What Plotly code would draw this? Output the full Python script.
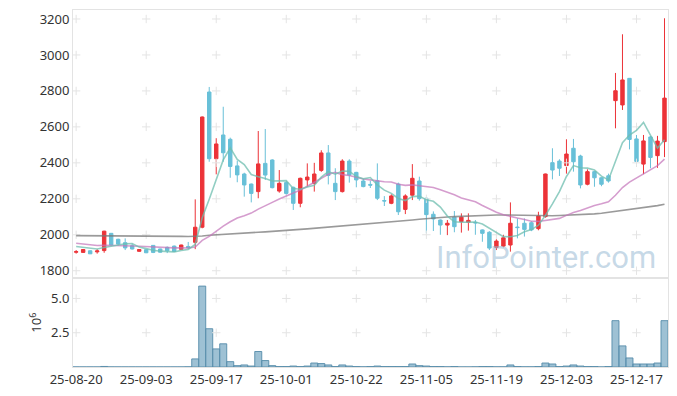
import plotly.graph_objects as go
import pandas as pd

dates = [
    "25-08-20", "25-08-21", "25-08-22", "25-08-25", "25-08-26", "25-08-27", "25-08-28", "25-08-29",
    "25-09-01", "25-09-02", "25-09-03", "25-09-04", "25-09-05", "25-09-08", "25-09-09", "25-09-10",
    "25-09-11", "25-09-12", "25-09-15", "25-09-16", "25-09-17", "25-09-18", "25-09-19", "25-09-22",
    "25-09-23", "25-09-24", "25-09-25", "25-09-26", "25-09-29", "25-09-30", "25-10-01", "25-10-02",
    "25-10-10", "25-10-13", "25-10-14", "25-10-15", "25-10-16", "25-10-17", "25-10-20", "25-10-21",
    "25-10-22", "25-10-23", "25-10-24", "25-10-27", "25-10-28", "25-10-29", "25-10-30", "25-10-31",
    "25-11-03", "25-11-04", "25-11-05", "25-11-06", "25-11-07", "25-11-10", "25-11-11", "25-11-12",
    "25-11-13", "25-11-14", "25-11-17", "25-11-18", "25-11-19", "25-11-20", "25-11-21", "25-11-24",
    "25-11-25", "25-11-26", "25-11-27", "25-11-28", "25-12-01", "25-12-02", "25-12-03", "25-12-04",
    "25-12-05", "25-12-08", "25-12-09", "25-12-10", "25-12-11", "25-12-12", "25-12-15", "25-12-16",
    "25-12-17", "25-12-18", "25-12-19", "25-12-22", "25-12-23",
]

open_ = [1903, 1902, 1911, 1905, 1912, 2008, 1975, 1956, 1939, 1908, 1917, 1941, 1921, 1930, 1937, 1919,
         1935, 1958, 2042, 2794, 2423, 2555, 2531, 2383, 2338, 2282, 2240, 2397, 2416, 2243, 2290, 2264,
         2175, 2305, 2286, 2358, 2455, 2286, 2240, 2410, 2347, 2299, 2280, 2300, 2190, 2175, 2282, 2141,
         2220, 2299, 2203, 2114, 2082, 2054, 2098, 2073, 2070, 2069, 2027, 2014, 1930, 1937, 1943, 2043,
         2064, 2067, 2034, 2101, 2401, 2410, 2385, 2481, 2438, 2281, 2351, 2317, 2328, 2746, 2722, 2870,
         2533, 2393, 2544, 2440, 2518]
high = [1915, 1920, 1913, 1920, 2022, 2010, 1978, 1980, 1950, 1920, 1920, 1943, 1923, 1935, 1940, 1945,
        1960, 2197, 2658, 2822, 2537, 2712, 2540, 2412, 2345, 2285, 2577, 2588, 2420, 2360, 2300, 2268,
        2318, 2397, 2400, 2470, 2499, 2370, 2420, 2420, 2350, 2310, 2300, 2397, 2215, 2225, 2290, 2225,
        2393, 2323, 2210, 2130, 2085, 2082, 2132, 2119, 2119, 2082, 2030, 2020, 1975, 2000, 2180, 2091,
        2091, 2075, 2128, 2340, 2481, 2420, 2531, 2533, 2445, 2364, 2355, 2320, 2340, 2900, 3115, 2872,
        2555, 2555, 2550, 2550, 3204]
low = [1895, 1900, 1893, 1895, 1900, 1940, 1940, 1915, 1918, 1905, 1898, 1898, 1900, 1898, 1905, 1917,
       1922, 1920, 2036, 2406, 2336, 2406, 2317, 2292, 2212, 2180, 2203, 2305, 2258, 2234, 2222, 2138,
       2153, 2267, 2240, 2350, 2280, 2193, 2235, 2290, 2264, 2264, 2260, 2193, 2160, 2170, 2110, 2115,
       2193, 2190, 2008, 2021, 2000, 1998, 2014, 2012, 2023, 2000, 1961, 1915, 1915, 1930, 1906, 1980,
       1990, 2020, 2025, 2095, 2308, 2327, 2340, 2351, 2258, 2275, 2267, 2270, 2290, 2592, 2694, 2475,
       2395, 2337, 2370, 2372, 2432]
close = [1906, 1918, 1894, 1910, 2020, 1943, 1948, 1927, 1921, 1918, 1900, 1902, 1903, 1911, 1907, 1943,
         1927, 2042, 2655, 2423, 2505, 2456, 2380, 2333, 2277, 2230, 2394, 2332, 2262, 2286, 2230, 2175,
         2314, 2321, 2338, 2455, 2330, 2240, 2410, 2332, 2305, 2268, 2276, 2203, 2188, 2216, 2128, 2216,
         2314, 2201, 2112, 2088, 2054, 2064, 2045, 2098, 2080, 2066, 2008, 1926, 1965, 1983, 2064, 2040,
         2030, 2027, 2104, 2338, 2360, 2370, 2449, 2406, 2277, 2351, 2317, 2281, 2299, 2801, 2861, 2530,
         2408, 2522, 2430, 2521, 2760]

# closes of the 19 sessions before the first visible day (estimated from where the MA lines start)
prior_close = [1995, 1990, 1992, 1985, 1983, 1950, 1948, 1945, 1942, 1946,
               1940, 1944, 1943, 1941, 1941, 1935, 1930, 1927, 1977]

# 120-day moving average
ma120 = [1995, 1995, 1995, 1994, 1994, 1994, 1994, 1993, 1993, 1993, 1993, 1992, 1992, 1992, 1991, 1991,
         1990, 1990, 1993, 1997, 2000, 2003, 2006, 2008, 2010, 2012, 2014, 2016, 2018, 2021, 2024, 2027,
         2030, 2033, 2036, 2039, 2042, 2045, 2048, 2051, 2054, 2057, 2060, 2063, 2066, 2070, 2074, 2078,
         2082, 2086, 2090, 2093, 2096, 2099, 2101, 2103, 2105, 2107, 2108, 2109, 2110, 2110, 2109, 2108,
         2107, 2106, 2105, 2105, 2106, 2107, 2108, 2110, 2112, 2114, 2116, 2120, 2125, 2130, 2135, 2140,
         2145, 2150, 2155, 2162, 2170]

# volume in millions of shares
volume_m = [0.004, 0.003, 0.004, 0.003, 0.04, 0.006, 0.004, 0.003, 0.003, 0.002, 0.002, 0.004, 0.003,
            0.003, 0.004, 0.005, 0.01, 0.59, 5.9, 2.79, 1.32, 1.69, 0.39, 0.1, 0.15, 0.07, 1.13, 0.47,
            0.1, 0.03, 0.03, 0.07, 0.03, 0.07, 0.29, 0.25, 0.15, 0.03, 0.15, 0.07, 0.03, 0.01, 0.03,
            0.07, 0.03, 0.03, 0.03, 0.03, 0.22, 0.1, 0.07, 0.03, 0.03, 0.01, 0.03, 0.005, 0.005, 0.01,
            0.03, 0.03, 0.01, 0.01, 0.15, 0.03, 0.01, 0.01, 0.03, 0.29, 0.22, 0.03, 0.07, 0.15, 0.07,
            0.03, 0.03, 0.005, 0.03, 3.38, 1.54, 0.66, 0.22, 0.22, 0.22, 0.29, 3.38]

price_ticks = [1800, 2000, 2200, 2400, 2600, 2800, 3000, 3200]
volume_ticks = [2.5, 5.0]
volume_tick_labels = ["2.5", "5.0"]
tick_dates = dates[::10]

s = pd.Series(prior_close + close, dtype=float)
ma5 = s.rolling(5).mean().iloc[len(prior_close):].tolist()
ma20 = s.rolling(20).mean().iloc[len(prior_close):].tolist()

RED = "#ec3338"
BLUE = "#68c0d8"
FONT = "Noto Sans"
CROSS = dict(symbol="cross-thin", size=6, line=dict(color="#e4e4e4", width=1))

fig = go.Figure()

# grid drawn as small crosses at tick intersections
fig.add_trace(go.Scatter(
    x=[d for d in tick_dates for _ in price_ticks],
    y=[p for _ in tick_dates for p in price_ticks],
    mode="markers", hoverinfo="skip", showlegend=False, marker=CROSS,
    xaxis="x", yaxis="y"))
fig.add_trace(go.Scatter(
    x=[d for d in tick_dates for _ in volume_ticks],
    y=[v for _ in tick_dates for v in volume_ticks],
    mode="markers", hoverinfo="skip", showlegend=False, marker=CROSS,
    xaxis="x2", yaxis="y2"))

fig.add_trace(go.Candlestick(
    x=dates, open=open_, high=high, low=low, close=close,
    increasing=dict(line=dict(color=RED, width=1), fillcolor=RED),
    decreasing=dict(line=dict(color=BLUE, width=1), fillcolor=BLUE),
    whiskerwidth=0, hoverinfo="skip", showlegend=False,
    xaxis="x", yaxis="y"))

fig.add_trace(go.Scatter(x=dates, y=ma120, mode="lines", hoverinfo="skip", showlegend=False,
                         line=dict(color="rgba(120,120,120,0.75)", width=1.6), xaxis="x", yaxis="y"))
fig.add_trace(go.Scatter(x=dates, y=ma20, mode="lines", hoverinfo="skip", showlegend=False,
                         line=dict(color="rgba(195,115,185,0.7)", width=1.6), xaxis="x", yaxis="y"))
fig.add_trace(go.Scatter(x=dates, y=ma5, mode="lines", hoverinfo="skip", showlegend=False,
                         line=dict(color="rgba(110,190,175,0.75)", width=1.6), xaxis="x", yaxis="y"))

fig.add_trace(go.Bar(
    x=dates, y=volume_m, hoverinfo="skip", showlegend=False,
    marker=dict(color="rgba(125,172,197,0.75)", line=dict(color="rgba(85,140,170,0.9)", width=1)),
    xaxis="x2", yaxis="y2"))

axis_common = dict(showgrid=False, zeroline=False, showline=True, linecolor="#e3e3e3",
                   linewidth=1, mirror=True, ticks="", automargin=False,
                   tickfont=dict(family=FONT, size=13, color="#333333"))

fig.update_layout(
    width=677, height=396,
    margin=dict(l=73, r=9, t=10, b=29),
    paper_bgcolor="white", plot_bgcolor="white",
    showlegend=False, hovermode=False, bargap=0,
    xaxis=dict(domain=[0, 1], anchor="y", type="category", range=[-0.45, 84.5],
               categoryorder="array", categoryarray=dates,
               showticklabels=False, tickvals=tick_dates, rangeslider=dict(visible=False),
               **axis_common),
    yaxis=dict(domain=[0.2485, 1], anchor="x", range=[1758, 3250], tickvals=price_ticks,
               **axis_common),
    xaxis2=dict(domain=[0, 1], anchor="y2", type="category", matches="x",
                categoryorder="array", categoryarray=dates, tickangle=0,
                tickvals=tick_dates, ticktext=tick_dates, **axis_common),
    yaxis2=dict(domain=[0, 0.2485], anchor="x2", range=[0, 6.47], tickvals=volume_ticks,
                ticktext=volume_tick_labels,
                title=dict(text="10<sup>6</sup>", font=dict(family=FONT, size=13, color="#333333"),
                           standoff=6),
                **axis_common),
    annotations=[dict(text="InfoPointer.com", xref="paper", yref="paper", x=0.983, y=0.308,
                      xanchor="right", yanchor="middle", showarrow=False,
                      font=dict(family="Roboto", size=31, color="rgba(150,185,210,0.55)"))],
)

fig.write_html("out.html", config={"displayModeBar": False, "staticPlot": True},
               post_script="document.body.style.margin='0';")
